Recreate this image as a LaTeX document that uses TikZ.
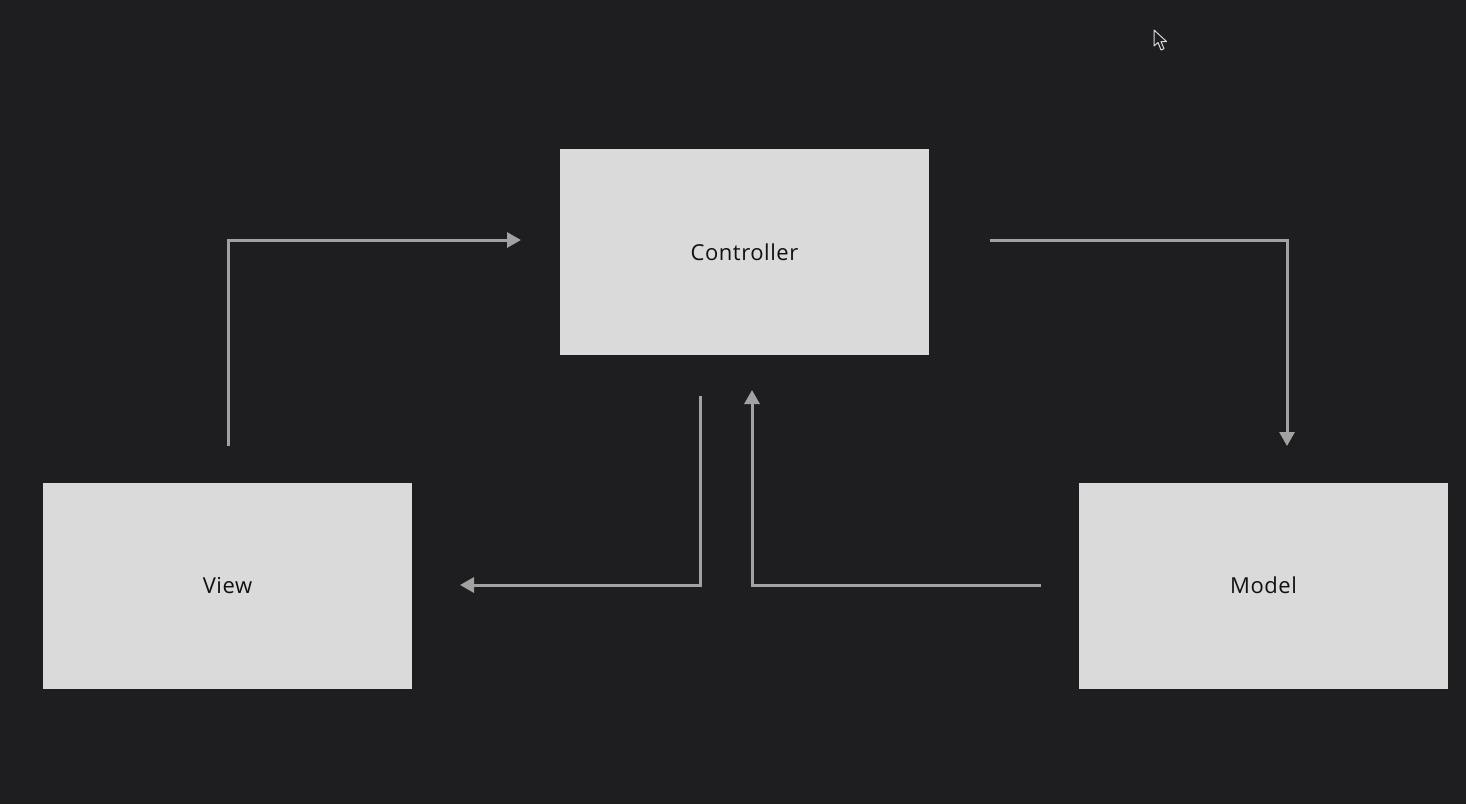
\documentclass[tikz,border=0pt]{standalone}
\usepackage{fontspec}
\setmainfont{Open Sans}[LetterSpace=2.5]
\usetikzlibrary{arrows.meta}
\definecolor{bg}{HTML}{1E1E20}
\definecolor{boxfill}{HTML}{DADADA}
\definecolor{linec}{HTML}{A2A2A2}
\definecolor{txt}{HTML}{111111}
\tikzset{
  block/.style={fill=boxfill, draw=none, minimum width=369pt, minimum height=206pt, inner sep=0pt, font=\fontsize{22}{26}\selectfont, text=txt},
  conn/.style={draw=linec, line width=3pt, -{Triangle[length=14pt,width=15pt]}}
}
\begin{document}
\begin{tikzpicture}[x=1pt,y=-1pt]
\fill[bg] (0,0) rectangle (1466,804);
\useasboundingbox (0,0) rectangle (1466,804);
\node[block] (ctrl) at (744.5,252) {Controller};
\node[block] (view) at (227.5,585.5) {View};
\node[block] (model) at (1263.5,585.5) {Model};
% free ends
\coordinate (vs) at (228,446);
\coordinate (ve) at (521,240);
\coordinate (cs) at (990,240);
\coordinate (ce) at (1287,446);
\coordinate (cvs) at (700,396);
\coordinate (cve) at (460,585);
\coordinate (mcs) at (1041,585);
\coordinate (mce) at (752,390);
\draw[conn] (vs) |- (ve);
\draw[conn] (cs) -| (ce);
\draw[conn] (cvs) |- (cve);
\draw[conn] (mcs) -| (mce);
% mouse cursor
\filldraw[fill=bg, draw=white!85!black, line width=1pt, line join=round]
  (1154,30) -- (1154,46) -- (1158,42.5) -- (1161,50) -- (1164,48.7) -- (1161,41.5) -- (1166.5,41.5) -- cycle;
\end{tikzpicture}
\end{document}
